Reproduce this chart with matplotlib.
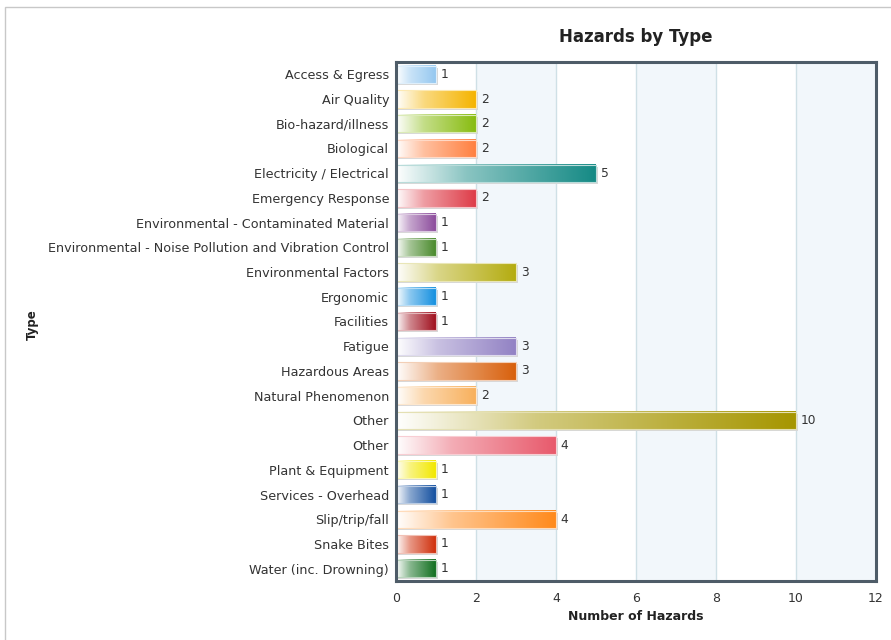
import numpy as np
import matplotlib
matplotlib.use('Agg')
import matplotlib.pyplot as plt
from matplotlib.colors import LinearSegmentedColormap, to_rgb
from matplotlib.patches import Rectangle

# data
types = ['Access & Egress', 'Air Quality', 'Bio-hazard/illness', 'Biological',
         'Electricity / Electrical', 'Emergency Response',
         'Environmental - Contaminated Material',
         'Environmental - Noise Pollution and Vibration Control',
         'Environmental Factors', 'Ergonomic', 'Facilities', 'Fatigue',
         'Hazardous Areas', 'Natural Phenomenon', 'Other', 'Other',
         'Plant & Equipment', 'Services - Overhead', 'Slip/trip/fall',
         'Snake Bites', 'Water (inc. Drowning)']
counts = [1, 2, 2, 2, 5, 2, 1, 1, 3, 1, 1, 3, 3, 2, 10, 4, 1, 1, 4, 1, 1]
bar_colors = ['#95c8f0', '#f5b400', '#88bc10', '#ff8040', '#158a85', '#de3c48',
              '#8c4c9c', '#4a8a2c', '#b4ac10', '#1590e0', '#a0101e', '#9282c4',
              '#d8600c', '#f8b05c', '#a69600', '#e85a6c', '#f2e800', '#1450a0',
              '#ff8a1c', '#d0300c', '#127020']
xticks = [0, 2, 4, 6, 8, 10, 12]

fig = plt.figure(figsize=(8.91, 6.4), dpi=100)
ax = fig.add_axes([396 / 891, 1 - 581 / 640, 480 / 891, 519 / 640])

# outer panel border
fig.add_artist(Rectangle((5 / 891, -0.1), 2, 1 - 7 / 640 + 0.1, transform=fig.transFigure,
                         fill=False, edgecolor='#c8c8c8', lw=1))

# alternating bands and grid
for x0 in [2, 6, 10]:
    ax.axvspan(x0, x0 + 2, color='#f2f7fb', zorder=0, lw=0)
for x in xticks[1:-1]:
    ax.axvline(x, color='#cfe0e6', lw=1, zorder=0.5)

grad = np.linspace(0, 1, 256).reshape(1, -1)
h = 0.7
for i, (v, c) in enumerate(zip(counts, bar_colors)):
    rgb = np.array(to_rgb(c))
    cmap = LinearSegmentedColormap.from_list('g', [(0, (1, 1, 1)), (0.35, tuple(rgb * 0.5 + 0.5)), (1, tuple(rgb))])
    # shadow
    ax.add_patch(Rectangle((0, i - h / 2 + 0.08), v + 0.05, h, facecolor='#d8d8d8',
                           edgecolor='none', zorder=1.5))
    ax.imshow(grad, cmap=cmap, aspect='auto', extent=[0, v, i + h / 2, i - h / 2],
              interpolation='bicubic', zorder=2)
    ax.add_patch(Rectangle((0, i - h / 2), v, h, facecolor='none',
                           edgecolor=tuple(rgb * 0.3 + 0.7), lw=0.8, zorder=2.5))
    ax.text(v + 0.12, i, str(v), va='center', ha='left', fontsize=8.8, color='#333333')

ax.set_xlim(0, 12)
ax.set_ylim(len(types) - 0.5, -0.5)
ax.set_yticks(range(len(types)))
ax.set_yticklabels(types, fontsize=9.2, color='#333333')
ax.set_xticks(xticks)
ax.set_xticklabels([str(t) for t in xticks], fontsize=9, color='#333333')
ax.tick_params(axis='y', length=0, pad=5)
ax.tick_params(axis='x', length=0, pad=8)

for s in ax.spines.values():
    s.set_color('#4e5c68')
    s.set_linewidth(2.2)

fig.text(636 / 891, 1 - 37 / 640, 'Hazards by Type', ha='center', va='center',
         fontsize=12, fontweight='bold', color='#222222')
fig.text(636 / 891, 1 - 617 / 640, 'Number of Hazards', ha='center', va='center',
         fontsize=9, fontweight='bold', color='#222222')
fig.text(32 / 891, 1 - 325 / 640, 'Type', ha='center', va='center', rotation=90,
         fontsize=8.5, fontweight='bold', color='#222222')

plt.savefig('out.png', dpi=100)
